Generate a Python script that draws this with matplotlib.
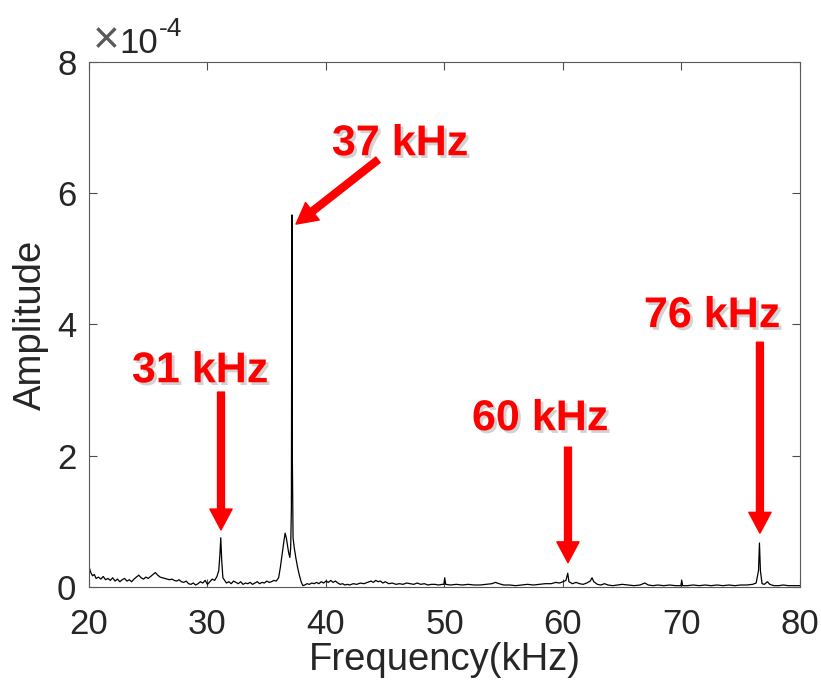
import numpy as np
import matplotlib
matplotlib.use('Agg')
import matplotlib.pyplot as plt
import matplotlib.patheffects as pe
from matplotlib import font_manager

# spectrum, amplitude in units of 1e-4
freq = [20.0, 20.05, 20.15, 20.3, 20.45, 20.6, 20.8, 21.0, 21.2, 21.4, 21.6, 21.8,
        22.0, 22.2, 22.4, 22.6, 22.8, 23.0, 23.2, 23.4, 23.6, 23.8, 24.0, 24.2,
        24.4, 24.6, 24.8, 25.0, 25.2, 25.4, 25.6, 25.8, 26.0, 26.2, 26.4, 26.6,
        26.8, 27.0, 27.2, 27.4, 27.6, 27.8, 28.0, 28.2, 28.4, 28.6, 28.8, 29.0,
        29.2, 29.4, 29.6, 29.8, 30.0, 30.2, 30.4, 30.6, 30.8, 30.95, 31.05, 31.12,
        31.2, 31.3, 31.45, 31.6, 31.8, 32.0, 32.2, 32.4, 32.6, 32.8, 33.0, 33.2,
        33.4, 33.6, 33.8, 34.0, 34.2, 34.4, 34.6, 34.8, 35.0, 35.2, 35.4, 35.6,
        35.8, 36.0, 36.15, 36.3, 36.45, 36.55, 36.65, 36.75, 36.85, 36.95, 37.02, 37.08,
        37.12, 37.16, 37.22, 37.32, 37.45, 37.6, 37.75, 37.9, 38.05, 38.2, 38.4, 38.6,
        38.8, 39.0, 39.2, 39.4, 39.6, 39.8, 40.0, 40.2, 40.4, 40.6, 40.8, 41.0,
        41.2, 41.4, 41.6, 41.8, 42.0, 42.3, 42.6, 42.9, 43.2, 43.5, 43.8, 44.0,
        44.2, 44.4, 44.6, 44.8, 45.0, 45.3, 45.6, 45.9, 46.2, 46.5, 46.8, 47.1,
        47.4, 47.7, 48.0, 48.3, 48.6, 48.9, 49.2, 49.5, 49.8, 49.95, 50.02, 50.1,
        50.5, 51.0, 51.5, 52.0, 52.5, 53.0, 53.5, 54.0, 54.3, 54.6, 55.0, 55.5,
        56.0, 56.5, 57.0, 57.5, 58.0, 58.5, 59.0, 59.4, 59.7, 60.0, 60.25, 60.4,
        60.5, 60.8, 61.1, 61.4, 61.7, 62.0, 62.3, 62.45, 62.6, 62.9, 63.2, 63.5,
        63.8, 64.2, 64.6, 65.0, 65.5, 66.0, 66.5, 66.9, 67.2, 67.6, 68.0, 68.5,
        69.0, 69.5, 69.95, 70.02, 70.1, 70.5, 71.0, 71.5, 72.0, 72.5, 73.0, 73.5,
        74.0, 74.5, 75.0, 75.5, 76.0, 76.3, 76.5, 76.58, 76.66, 76.8, 77.0, 77.25,
        77.45, 77.8, 78.2, 78.6, 79.0, 79.5, 80.0]
amp = [0.20, 0.28, 0.22, 0.17, 0.19, 0.13, 0.15, 0.12, 0.16, 0.11, 0.13, 0.10,
       0.14, 0.09, 0.12, 0.08, 0.11, 0.13, 0.09, 0.11, 0.08, 0.12, 0.15, 0.18,
       0.14, 0.12, 0.15, 0.13, 0.16, 0.19, 0.22, 0.18, 0.15, 0.14, 0.13, 0.12,
       0.11, 0.12, 0.10, 0.09, 0.11, 0.08, 0.07, 0.09, 0.05, 0.04, 0.06, 0.03,
       0.05, 0.08, 0.06, 0.10, 0.04, 0.08, 0.12, 0.10, 0.16, 0.25, 0.50, 0.75,
       0.40, 0.14, 0.10, 0.06, 0.08, 0.05, 0.09, 0.07, 0.05, 0.08, 0.04, 0.06,
       0.05, 0.07, 0.04, 0.06, 0.08, 0.05, 0.07, 0.06, 0.09, 0.07, 0.08, 0.10,
       0.09, 0.14, 0.30, 0.50, 0.70, 0.82, 0.75, 0.64, 0.52, 0.45, 0.60, 1.20,
       5.67, 2.00, 0.75, 0.60, 0.45, 0.30, 0.18, 0.08, 0.02, 0.03, 0.05, 0.04,
       0.06, 0.05, 0.07, 0.05, 0.08, 0.06, 0.09, 0.07, 0.10, 0.07, 0.09, 0.06,
       0.04, 0.05, 0.03, 0.04, 0.03, 0.05, 0.04, 0.06, 0.05, 0.07, 0.09, 0.07,
       0.10, 0.08, 0.09, 0.06, 0.08, 0.05, 0.06, 0.04, 0.05, 0.04, 0.06, 0.05,
       0.04, 0.06, 0.04, 0.05, 0.03, 0.04, 0.04, 0.03, 0.04, 0.04, 0.14, 0.04,
       0.03, 0.04, 0.03, 0.04, 0.03, 0.03, 0.04, 0.05, 0.07, 0.05, 0.03, 0.03,
       0.02, 0.03, 0.04, 0.03, 0.04, 0.05, 0.05, 0.07, 0.06, 0.08, 0.10, 0.21,
       0.08, 0.05, 0.07, 0.05, 0.04, 0.06, 0.09, 0.14, 0.08, 0.04, 0.03, 0.05,
       0.03, 0.02, 0.03, 0.04, 0.03, 0.02, 0.03, 0.06, 0.03, 0.02, 0.03, 0.02,
       0.03, 0.02, 0.02, 0.10, 0.02, 0.02, 0.03, 0.02, 0.03, 0.02, 0.03, 0.02,
       0.03, 0.02, 0.03, 0.03, 0.04, 0.06, 0.25, 0.67, 0.25, 0.05, 0.04, 0.08,
       0.04, 0.02, 0.02, 0.03, 0.02, 0.02, 0.02]

xticks = [20, 30, 40, 50, 60, 70, 80]
yticks = [0, 2, 4, 6, 8]

# annotations: label, label position (x, baseline y), arrow tail, arrow head
labels = ['37 kHz', '31 kHz', '60 kHz', '76 kHz']
label_xy = [(46.24, 6.58), (29.37, 3.12), (58.06, 2.39), (72.57, 3.96)]
arrow_tail = [(44.39, 6.51), (31.14, 2.97), (60.42, 2.13), (76.62, 3.73)]
arrow_head = [(37.47, 5.53), (31.14, 0.87), (60.42, 0.37), (76.62, 0.82)]

names = {f.name for f in font_manager.fontManager.ttflist}
if 'Liberation Sans Narrow' in names:
    ann_family, ann_size = 'Liberation Sans Narrow', 37
else:
    ann_family, ann_size = 'Liberation Sans', 31

plt.rcParams['font.family'] = ['Liberation Sans', 'DejaVu Sans']
dark = '#262626'

fig = plt.figure(figsize=(8.21, 6.93), dpi=100)
ax = fig.add_axes([0.1084, 0.1530, 0.8660, 0.7575])
ax.plot(freq, amp, color='black', lw=0.9)

ax.set_xlim(20, 80)
ax.set_ylim(0, 8)
ax.set_xticks(xticks)
ax.set_yticks(yticks)
ax.tick_params(direction='in', length=6, width=0.8, top=True, right=True,
               labelsize=25, colors=dark, color='0.3')
ax.tick_params(axis='x', pad=15)
ax.tick_params(axis='y', pad=9)
for s in ax.spines.values():
    s.set_color('0.35')
    s.set_linewidth(0.8)
ax.set_xlabel('Frequency(kHz)', fontsize=27.5, color=dark, labelpad=1)
ax.set_ylabel('Amplitude', fontsize=27.5, color=dark, labelpad=6)

# exponent, drawn the way the source tool shows it
fig.text(93 / 821, 1 - 53 / 693, '\u00d7', fontsize=33, color='0.35')
fig.text(119 / 821, 1 - 53 / 693, '10', fontsize=25, color=dark)
fig.text(159 / 821, 1 - 36 / 693, '-4', fontsize=19, color=dark)

shadow = [pe.withSimplePatchShadow(offset=(2, -2), shadow_rgbFace='0.5', alpha=0.35)]
for lab, (lx, ly), tail, head in zip(labels, label_xy, arrow_tail, arrow_head):
    ax.text(lx, ly, lab, ha='center', va='baseline', color='red',
            fontsize=ann_size, fontweight='bold', family=ann_family,
            path_effects=shadow)
    ax.annotate('', xy=head, xytext=tail,
                arrowprops=dict(facecolor='red', edgecolor='red', width=5,
                                headwidth=16, headlength=15, shrink=0))

fig.savefig('out.png', dpi=100)
